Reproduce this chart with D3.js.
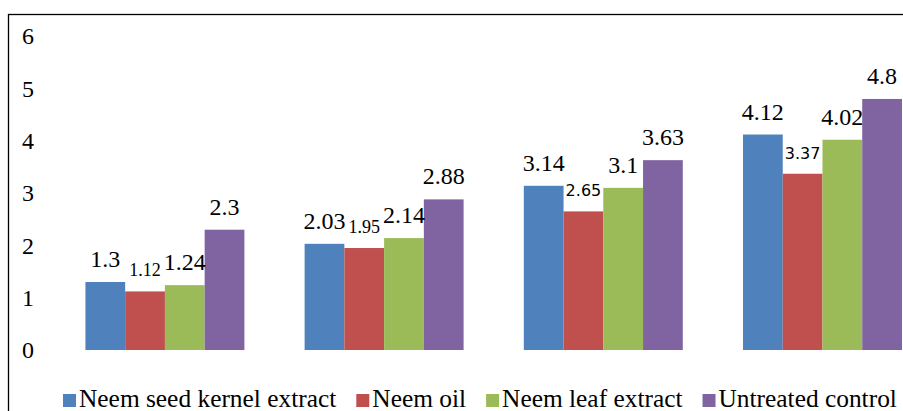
<!DOCTYPE html>
<html>
<head>
<meta charset="utf-8">
<script src="https://cdn.jsdelivr.net/npm/d3@7"></script>
<style>
  html, body { margin: 0; padding: 0; background: #fff; }
  svg { display: block; }
</style>
</head>
<body>
<svg id="chart" width="903" height="411"></svg>
<script>
// Sampling intervals (not labelled on the axis)
const intervals = ["1", "2", "3", "4"];
const seriesNames = ["Neem seed kernel extract", "Neem oil", "Neem leaf extract", "Untreated control"];
const seriesColors = ["#4F81BD", "#C0504D", "#9BBB59", "#8064A2"];

// Values per treatment, one per interval
const neemSeedKernel = [1.3, 2.03, 3.14, 4.12];
const neemOil = [1.12, 1.95, 2.65, 3.37];
const neemLeaf = [1.24, 2.14, 3.1, 4.02];
const untreated = [2.3, 2.88, 3.63, 4.8];
const seriesValues = [neemSeedKernel, neemOil, neemLeaf, untreated];

const yTicks = [0, 1, 2, 3, 4, 5, 6];

const SERIF = "Liberation Serif";
const SANS = "DejaVu Sans";

const svg = d3.select("#chart");

// Outer frame
svg.append("rect")
  .attr("x", 8.5).attr("y", 14.5)
  .attr("width", 1000).attr("height", 500)
  .attr("fill", "none").attr("stroke", "#000").attr("stroke-width", 1.3);

const x0 = d3.scaleBand().domain(intervals).range([55.4, 932])
  .paddingInner(0.2747).paddingOuter(0.137);
const x1 = d3.scaleBand().domain(d3.range(seriesNames.length)).range([0, x0.bandwidth()]);
const y = d3.scaleLinear().domain([0, 6]).range([350, 36.2]);

// Y axis labels only (no axis line, no gridlines)
const yAxis = d3.axisLeft(y).tickValues(yTicks).tickSize(0).tickPadding(0).tickFormat(d3.format("d"));
const gy = svg.append("g").attr("transform", "translate(34,0)").call(yAxis);
gy.select(".domain").remove();
gy.attr("font-family", SERIF).attr("font-size", 24);
gy.selectAll("text").attr("font-family", SERIF).attr("font-size", 24).attr("fill", "#000");

// Bars
const rows = [];
intervals.forEach((c, i) => {
  seriesValues.forEach((vals, s) => rows.push({ c, s, v: vals[i], gi: i }));
});

const g = svg.append("g");
g.selectAll("rect.bar").data(rows).join("rect")
  .attr("class", "bar")
  .attr("x", d => x0(d.c) + x1(d.s))
  .attr("y", d => y(d.v))
  .attr("width", x1.bandwidth())
  .attr("height", d => y(0) - y(d.v))
  .attr("fill", d => seriesColors[d.s]);

// Value labels; the Neem oil labels are set in a smaller size
g.selectAll("text.val").data(rows).join("text")
  .attr("class", "val")
  .attr("x", d => x0(d.c) + x1(d.s) + x1.bandwidth() / 2)
  .attr("y", d => y(d.v) - 15)
  .attr("text-anchor", "middle")
  .attr("font-family", d => (d.s === 1 && d.gi >= 2) ? SANS : SERIF)
  .attr("font-size", d => d.s === 1 ? (d.gi >= 2 ? 16 : 18) : 24)
  .attr("fill", "#000")
  .text(d => d.v);

// Legend
const legend = svg.append("g").attr("transform", "translate(63,0)");
let lx = 0;
seriesNames.forEach((name, s) => {
  legend.append("rect")
    .attr("x", lx).attr("y", 394).attr("width", 13).attr("height", 13)
    .attr("fill", seriesColors[s]);
  const t = legend.append("text")
    .attr("x", lx + 16).attr("y", 407)
    .attr("font-family", SERIF).attr("font-size", 25.4).attr("fill", "#000")
    .text(name);
  lx += 16 + t.node().getComputedTextLength() + 20;
});
</script>
</body>
</html>
